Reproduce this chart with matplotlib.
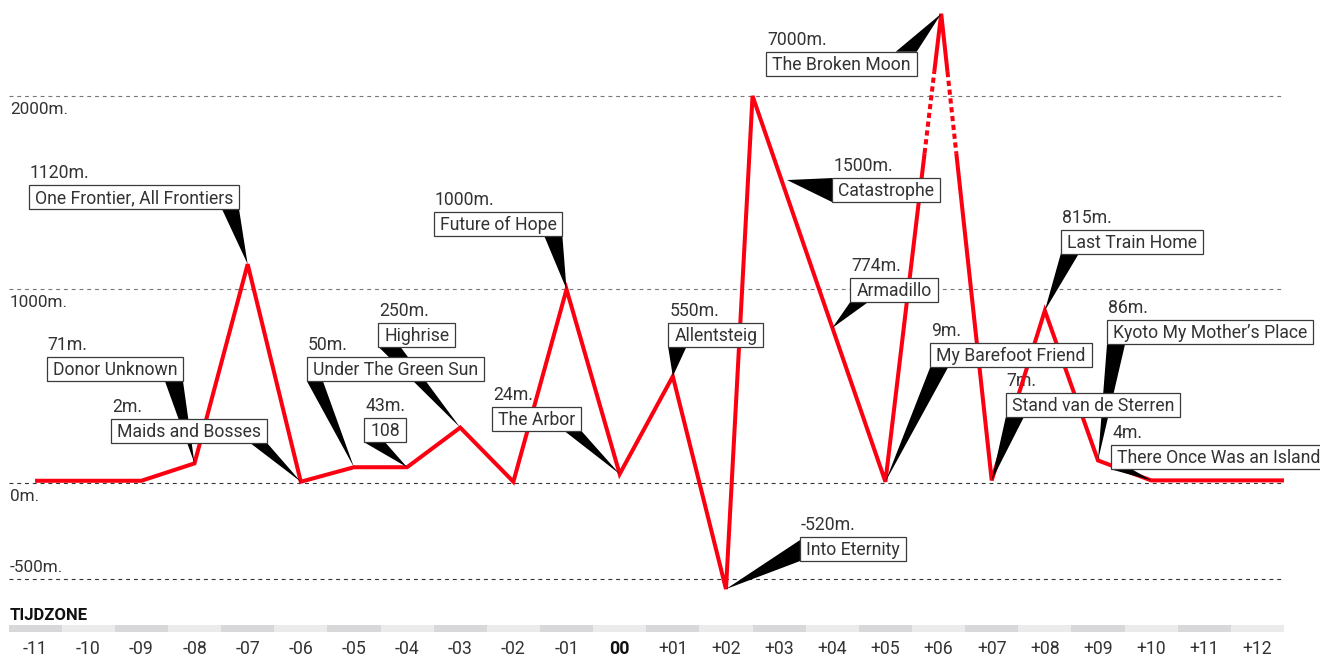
import numpy as np
import matplotlib
matplotlib.use('Agg')
import matplotlib.pyplot as plt
from matplotlib.patches import Rectangle, Polygon
from matplotlib.transforms import IdentityTransform

plt.rcParams['font.family'] = ['Roboto', 'DejaVu Sans']

# ---------------- data ----------------
tz_ticks = [-11, -10, -9, -8, -7, -6, -5, -4, -3, -2, -1, 0,
            1, 2, 3, 4, 5, 6, 7, 8, 9, 10, 11, 12]
tick_labels = ['-11', '-10', '-09', '-08', '-07', '-06', '-05', '-04', '-03',
               '-02', '-01', '00', '+01', '+02', '+03', '+04', '+05', '+06',
               '+07', '+08', '+09', '+10', '+11', '+12']

# line vertices (timezone position, metres as drawn)
line_x = [-11, -9, -8, -7, -6, -5, -4, -3, -2, -1, 0, 1, 2, 2.5, 5, 6.05, 7, 8, 9, 10, 12.5]
line_y = [10, 10, 100, 1130, 5, 80, 80, 285, 5, 1000, 45, 550, -550, 2000, 5, 7000, 12, 890, 115, 12, 12]

grid_vals = [2000, 1000, 0, -500]
grid_labels = ['2000m.', '1000m.', '0m.', '-500m.']

titles = ['One Frontier, All Frontiers', 'Donor Unknown', 'Maids and Bosses',
          'Under The Green Sun', 'Highrise', '108', 'The Arbor', 'Future of Hope',
          'Allentsteig', 'Into Eternity', 'Armadillo', 'Catastrophe',
          'The Broken Moon', 'My Barefoot Friend', 'Last Train Home',
          'Stand van de Sterren', 'Kyoto My Mother\u2019s Place', 'There Once Was an Island']
value_labels = ['1120m.', '71m.', '2m.', '50m.', '250m.', '43m.', '24m.', '1000m.',
                '550m.', '-520m.', '774m.', '1500m.', '7000m.', '9m.', '815m.',
                '7m.', '86m.', '4m.']
target_x = [-7, -8, -6, -5, -3, -4, 0, -1, 1, 2, 4.0, 3.15, 6.05, 5, 8, 7, 9, 10]
target_y = [1130, 100, 5, 80, 285, 80, 45, 1000, 550, -550, 800, 1565, 7000, 5, 890, 12, 115, 12]

# ---------------- layout (pixels) ----------------
box_dx = [-219, -148, -190, -47, -82, -43, -127.5, -133, -4.6, 74, 18, 45, -175, 45, 16, 14, 9, -40]
box_dy = [-79, -106, -63, -110, -105, -49, -67, -77, -53, -52, -50, -2, 38, -139, -81, -87, -140, -35]
ptr_side = ['br', 'br', 'br', 'bl', 'bl', 'bl', 'br', 'br', 'bl', 'l', 'bl', 'l', 'tr',
            'bl', 'bl', 'bl', 'bl', 'bl']
ptr_w = [17, 18, 17, 16, 22, 21, 17, 18, 18, 3, 18, 0, 21, 18, 18, 18, 18, 21]

W, H = 1320, 657
RED = '#fc0012'
TXT = '#333333'
FS = 12.7

fig = plt.figure(figsize=(W / 100, H / 100), dpi=100)
ax = fig.add_axes([8.5 / W, (H - 600) / H, (1284 - 8.5) / W, 600 / H])

K = 0.085
CAP = 2000


def fwd(v):
    v = np.asarray(v, dtype=float)
    return np.where(v <= CAP, v, CAP + (v - CAP) * K)


def inv(d):
    d = np.asarray(d, dtype=float)
    return np.where(d <= CAP, d, CAP + (d - CAP) / K)


ax.set_yscale('function', functions=(fwd, inv))
ax.set_xlim(-11.5, 12.5)
ax.set_ylim(-606.5, float(inv(2496)))
ax.axis('off')

# gridlines and labels
for v, lab in zip(grid_vals, grid_labels):
    col = '#777777' if v > 0 else '#333333'
    ax.axhline(v, color=col, lw=0.8, ls=(0, (3.5, 3.5)), zorder=1)
    if v < 0:
        ax.annotate(lab, xy=(0, v), xycoords=('axes fraction', 'data'), xytext=(1.5, 4),
                    textcoords='offset pixels', ha='left', va='bottom', fontsize=12.3, color=TXT)
    else:
        ax.annotate(lab, xy=(0, v), xycoords=('axes fraction', 'data'), xytext=(1.5, -6),
                    textcoords='offset pixels', ha='left', va='top', fontsize=12.3, color=TXT)

# line with dotted (broken-axis) section on segments reaching beyond the cap
D_LO, D_HI = 1704, 2124
xs = np.array(line_x, dtype=float)
ys = np.array(line_y, dtype=float)
solid_x, solid_y = [xs[0]], [ys[0]]
for i in range(len(xs) - 1):
    x0, y0, x1, y1 = xs[i], ys[i], xs[i + 1], ys[i + 1]
    d0, d1 = float(fwd(y0)), float(fwd(y1))
    broken = max(y0, y1) > CAP
    ts = []
    if broken:
        for D in (D_LO, D_HI):
            if (d0 - D) * (d1 - D) < 0:
                ts.append((D - d0) / (d1 - d0))
    seg = [(x0, y0)]
    for t in sorted(ts):
        seg.append((x0 + t * (x1 - x0), float(inv(d0 + t * (d1 - d0)))))
    seg.append((x1, y1))
    for a, b in zip(seg[:-1], seg[1:]):
        dm = (float(fwd(a[1])) + float(fwd(b[1]))) / 2
        if broken and D_LO < dm < D_HI:
            ax.plot([a[0], b[0]], [a[1], b[1]], color=RED, lw=2.9, ls=(0, (1.3, 0.9)),
                    dash_capstyle='butt', zorder=2)
            solid_x += [np.nan, b[0]]
            solid_y += [np.nan, b[1]]
        else:
            solid_x.append(b[0])
            solid_y.append(b[1])
ax.plot(solid_x, solid_y, color=RED, lw=2.9, solid_joinstyle='miter',
        solid_capstyle='butt', zorder=2)

fig.canvas.draw()
renderer = fig.canvas.get_renderer()
ID = IdentityTransform()

for i, title in enumerate(titles):
    tx, ty = ax.transData.transform((target_x[i], target_y[i]))
    L = tx + box_dx[i]
    T = ty - box_dy[i]
    B = T - 24
    t = ax.text(L + 6, T - 18, title, transform=ID, ha='left', va='baseline',
                fontsize=FS, color=TXT, zorder=6)
    bb = t.get_window_extent(renderer)
    R = bb.x1 + 6
    rect = Rectangle((L, B), R - L, 24, transform=ID, fc='white', ec='#3a3a3a',
                     lw=0.9, zorder=5)
    ax.add_artist(rect)
    rect.set_clip_on(False)
    ax.text(L + 1, T + 7, value_labels[i], transform=ID, ha='left', va='baseline',
            fontsize=FS, color=TXT, zorder=1.5)
    side, w = ptr_side[i], ptr_w[i]
    if side == 'bl':
        base = [(L, B), (L + w, B)]
    elif side == 'br':
        base = [(R - w, B), (R, B)]
    elif side == 'l':
        base = [(L, T - w), (L, B)]
    else:
        base = [(R - w, T), (R, T)]
    poly = Polygon(base + [(tx, ty)], closed=True, transform=ID, fc='black',
                   ec='none', zorder=3)
    ax.add_artist(poly)
    poly.set_clip_on(False)

# timezone band axis
ax2 = fig.add_axes([8.5 / W, (H - 632) / H, (1284 - 8.5) / W, 7 / H])
band_cols = ['#d8d8da' if k % 2 == 0 else '#ebebeb' for k in range(len(tz_ticks))]
ax2.bar(tz_ticks, 1, width=1.0, color=band_cols, align='center')
ax2.set_xlim(-11.5, 12.5)
ax2.set_ylim(0, 1)
for s in ax2.spines.values():
    s.set_visible(False)
ax2.set_yticks([])
ax2.set_xticks(tz_ticks)
ax2.set_xticklabels(tick_labels)
ax2.tick_params(axis='x', length=0, pad=5.5, labelsize=12.7, labelcolor=TXT)
for lab in ax2.get_xticklabels():
    if lab.get_text() == '00':
        lab.set_fontweight('bold')
        lab.set_color('#111111')

fig.text(10 / W, 1 - 620 / H, 'TIJDZONE', fontweight='bold', fontsize=12,
         color='#111111', va='baseline', ha='left')

fig.savefig('out.png', dpi=100)
